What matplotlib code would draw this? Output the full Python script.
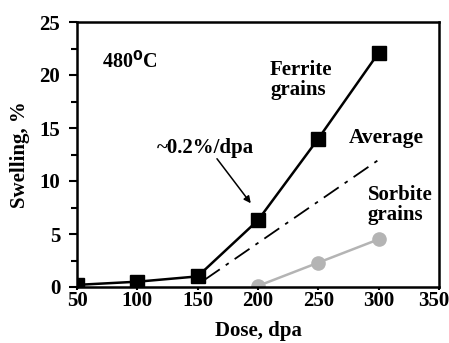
import numpy as np
import matplotlib.pyplot as plt
import matplotlib.transforms as mtransforms

plt.rcParams['font.family'] = 'Liberation Serif'
plt.rcParams['font.weight'] = 'bold'

# ferrite grains
dose_fer = [50, 100, 150, 200, 250, 300]
swell_fer = [0.2, 0.5, 1.0, 6.3, 14.0, 22.1]
# average (dash-dot)
dose_avg = [156, 300]
swell_avg = [0.7, 12.0]
# sorbite grains
dose_sor = [200, 250, 300]
swell_sor = [0.1, 2.3, 4.5]

fig = plt.figure(figsize=(4.49, 3.43), dpi=100)
ax = fig.add_axes([77/449, 1-287/343, 362/449, 265/343])

ax.plot(dose_fer, swell_fer, color='black', lw=1.8, marker='s', ms=9.5, zorder=3)
ax.plot(dose_avg, swell_avg, color='black', lw=1.3, ls=(0, (10, 4, 2, 4)))
ax.plot(dose_sor, swell_sor, color='#b4b4b4', lw=1.8, marker='o', ms=9.5)

ax.set_xlim(50, 350)
ax.set_ylim(0, 25)
ax.set_xticks(np.arange(50, 351, 50))
ax.set_yticks(np.arange(0, 26, 5))
ax.set_yticks(np.arange(0, 26, 2.5), minor=True)
ax.tick_params(direction='out', labelsize=15, width=1.5, length=6, top=False, right=False)
ax.tick_params(axis='y', pad=6)
ax.tick_params(axis='x', length=2, pad=1)
ax.tick_params(which='minor', direction='out', width=1.5, length=4)
for s in ax.spines.values():
    s.set_linewidth(1.8)

# last x label sits a bit left so it stays inside the figure
fig.canvas.draw()
last = ax.get_xticklabels()[-1]
last.set_transform(last.get_transform() + mtransforms.ScaledTranslation(-5/100, 0, fig.dpi_scale_trans))

ax.set_xlabel('Dose, dpa', fontsize=15, fontweight='bold', labelpad=7)
ax.set_ylabel('Swelling, %', fontsize=15, fontweight='bold', labelpad=7)

ax.text(71, 21.2, '480$^\\mathbf{0}$C', fontsize=14.5, fontweight='bold', va='center')
ax.text(210, 19.5, 'Ferrite\ngrains', fontsize=15, fontweight='bold', va='center', linespacing=1.0)
ax.text(275, 14.1, 'Average', fontsize=15.5, fontweight='bold', va='center')
ax.text(291, 7.7, 'Sorbite\ngrains', fontsize=15, fontweight='bold', va='center', linespacing=1.0)
ax.text(116, 13.1, '~0.2%/dpa', fontsize=15, fontweight='bold', va='center')
ax.annotate('', xy=(194, 7.9), xytext=(166, 12.1),
            arrowprops=dict(arrowstyle='-|>', color='black', lw=1.1,
                            shrinkA=0, shrinkB=0, mutation_scale=10))

fig.savefig('out.png', dpi=100)
